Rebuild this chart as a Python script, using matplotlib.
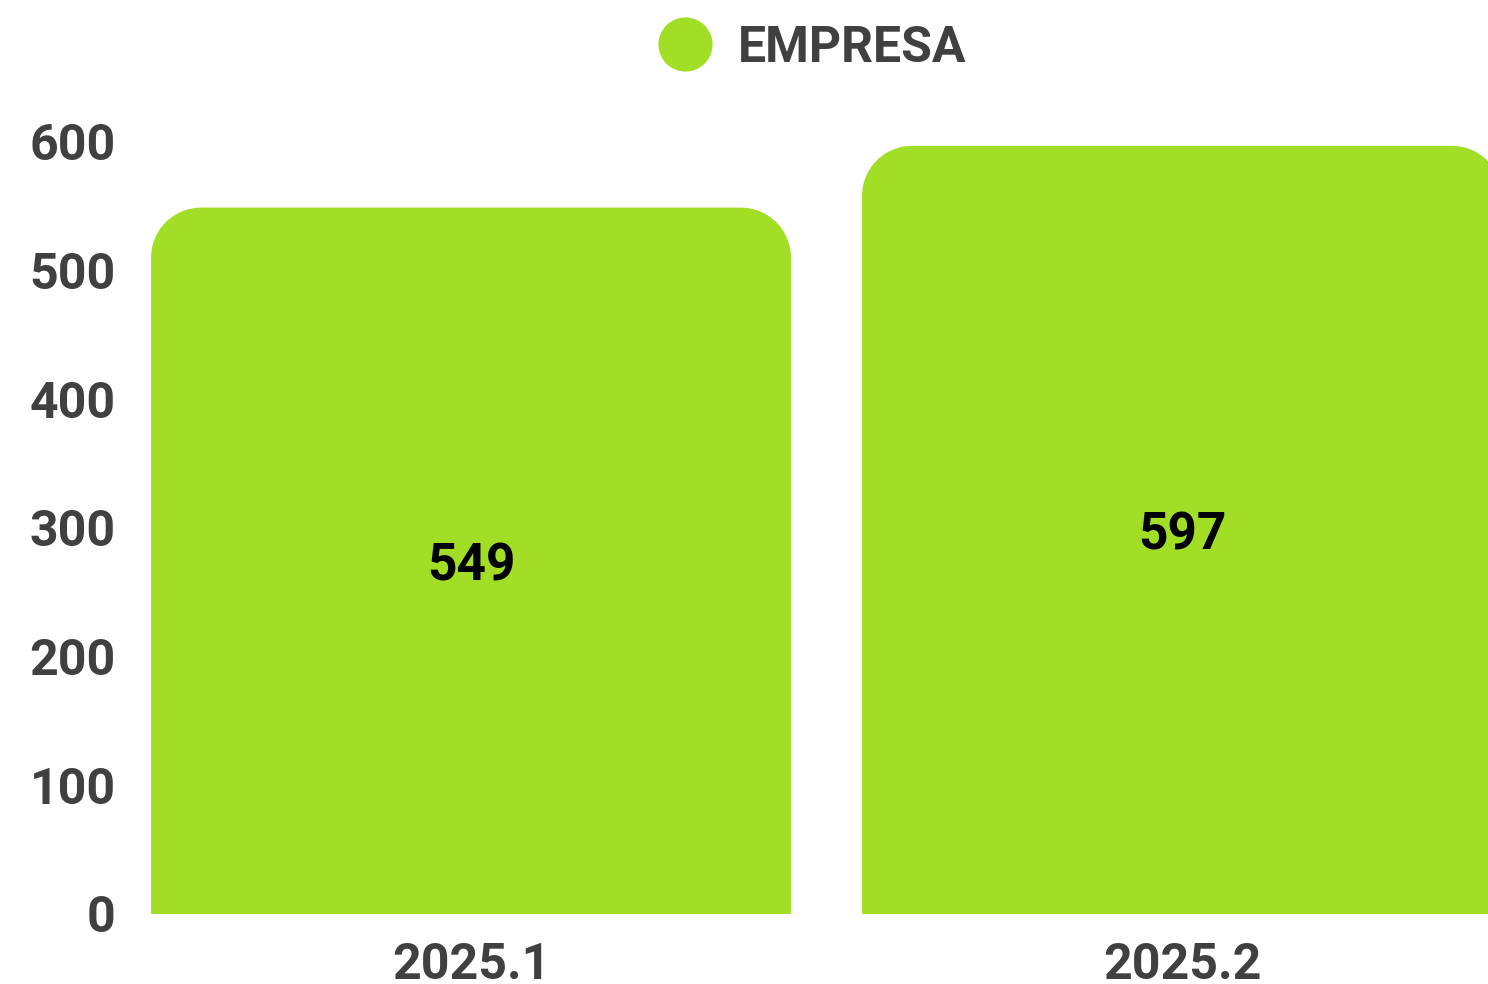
import matplotlib
matplotlib.use('Agg')
import matplotlib.pyplot as plt
from matplotlib.path import Path
from matplotlib.patches import PathPatch
from matplotlib.lines import Line2D

# data
categories = ['2025.1', '2025.2']
values = [549, 597]
series_name = 'EMPRESA'
y_ticks = [0, 100, 200, 300, 400, 500, 600]

bar_color = '#A3DE27'
text_color = '#404040'

plt.rcParams['font.family'] = ['Roboto', 'DejaVu Sans']
plt.rcParams['font.weight'] = 'bold'

W, H = 1488, 984
fig = plt.figure(figsize=(W / 100, H / 100), dpi=100)
# axes in pixel coordinates (right side runs off the canvas like the original)
ax_left, ax_right, ax_bottom, ax_top = 115.5, 1537.5, 70, 842
ax = fig.add_axes([ax_left / W, ax_bottom / H, (ax_right - ax_left) / W, (ax_top - ax_bottom) / H])
ax.set_xlim(-0.5, 1.5)
ax.set_ylim(0, 600)

bar_width = 0.9
radius_px = 50
rx = radius_px / ((ax_right - ax_left) / 2.0)
ry = radius_px / ((ax_top - ax_bottom) / 600.0)
k = 0.5523


def rounded_top_bar(xc, h):
    x0, x1 = xc - bar_width / 2, xc + bar_width / 2
    verts = [
        (x0, 0), (x0, h - ry),
        (x0, h - ry + k * ry), (x0 + rx - k * rx, h), (x0 + rx, h),
        (x1 - rx, h),
        (x1 - rx + k * rx, h), (x1, h - ry + k * ry), (x1, h - ry),
        (x1, 0), (x0, 0),
    ]
    codes = [Path.MOVETO, Path.LINETO,
             Path.CURVE4, Path.CURVE4, Path.CURVE4,
             Path.LINETO,
             Path.CURVE4, Path.CURVE4, Path.CURVE4,
             Path.LINETO, Path.CLOSEPOLY]
    return PathPatch(Path(verts, codes), facecolor=bar_color, edgecolor='none')


for i, v in enumerate(values):
    ax.add_patch(rounded_top_bar(i, v))
    ax.annotate(str(v), (i, v / 2), xytext=(0, -4), textcoords='offset points',
                ha='center', va='center', fontsize=37,
                fontweight='bold', color='black')

ax.set_xticks(range(len(categories)))
ax.set_xticklabels(categories)
ax.set_yticks(y_ticks)
ax.tick_params(axis='both', length=0, labelsize=36, labelcolor=text_color)
ax.tick_params(axis='y', pad=0)
ax.tick_params(axis='x', pad=20)
for lbl in ax.get_xticklabels() + ax.get_yticklabels():
    lbl.set_fontweight('bold')
for s in ax.spines.values():
    s.set_visible(False)

handle = Line2D([], [], linestyle='none', marker='o', markersize=39,
                markerfacecolor=bar_color, markeredgecolor='none')
leg = fig.legend([handle], [series_name], loc='center',
                 bbox_to_anchor=(812.5 / W, 1 - 48 / H), frameon=False,
                 fontsize=36, handlelength=1.08, handletextpad=0.52,
                 borderpad=0, borderaxespad=0)
for t in leg.get_texts():
    t.set_color(text_color)
    t.set_fontweight('bold')

fig.savefig('out.png', dpi=100)
